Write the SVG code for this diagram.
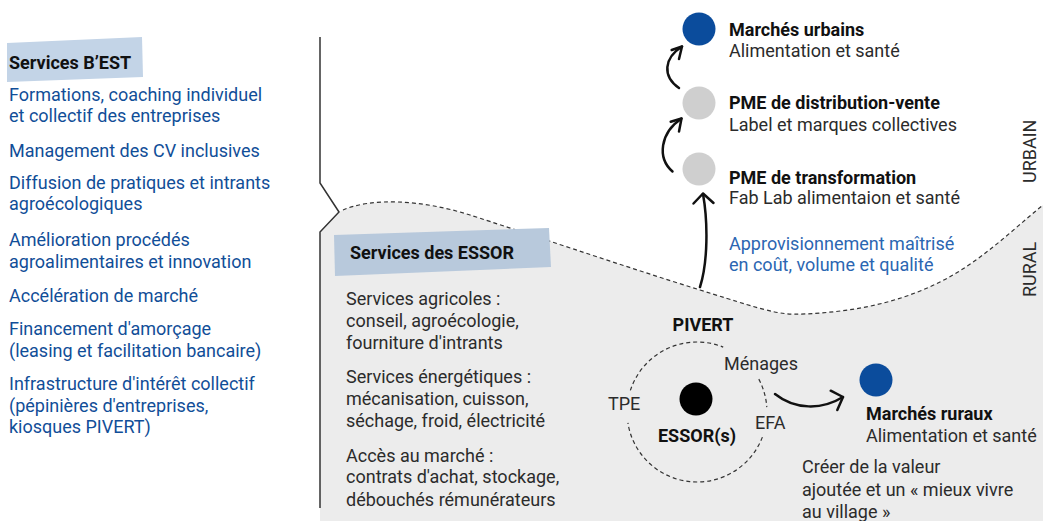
<svg xmlns="http://www.w3.org/2000/svg" width="1043" height="521" viewBox="0 0 1043 521">
<style>
.t{font-family:Roboto,"Liberation Sans",Arial,sans-serif;font-size:18px}
.b{font-weight:bold}
.blue{fill:#114e98}
.lblue{fill:#2b66b2}
.dk{fill:#2b2b2b}
.blk{fill:#111}
.conn{fill:none;stroke:#111;stroke-width:2.5;stroke-linecap:round;stroke-linejoin:round}
.dash{fill:none;stroke:#333;stroke-width:1.2;stroke-dasharray:4 3}
.tag{fill:#c3d4e7}
</style>
<rect width="1043" height="521" fill="#ffffff"/>
<g id="rural-zone">
<path d="M320,521 L320,232 L339,212 L343,210 C370,198 420,199 470,215 S620,265 700,290 S780,316 820,313 S900,302 940,282 S1010,232 1043,205 L1043,521 Z" fill="#ececec"/>
<path class="dash" d="M343,210 C370,198 420,199 470,215 S620,265 700,290 S780,316 820,313 S900,302 940,282 S1010,232 1043,205"/>
<polyline points="320,37 320,183 339,212 320,232 320,508" fill="none" stroke="#333" stroke-width="1.5"/>
<text class="t dk" transform="translate(1036,183) rotate(-90)">URBAIN</text>
<text class="t dk" transform="translate(1036,297) rotate(-90)">RURAL</text>
</g>
<g id="services-best">
<polygon class="tag" points="7,43 142,37 143,77 7,82"/>
<text class="t b blk" x="9" y="69">Services B’EST</text>
<text class="t blue" x="9" y="101">Formations, coaching individuel</text>
<text class="t blue" x="9" y="122">et collectif des entreprises</text>
<text class="t blue" x="9" y="157">Management des CV inclusives</text>
<text class="t blue" x="9" y="189">Diffusion de pratiques et intrants</text>
<text class="t blue" x="9" y="210">agroécologiques</text>
<text class="t blue" x="9" y="246">Amélioration procédés</text>
<text class="t blue" x="9" y="268">agroalimentaires et innovation</text>
<text class="t blue" x="9" y="302">Accélération de marché</text>
<text class="t blue" x="9" y="335">Financement d'amorçage</text>
<text class="t blue" x="9" y="357">(leasing et facilitation bancaire)</text>
<text class="t blue" x="9" y="390">Infrastructure d'intérêt collectif</text>
<text class="t blue" x="9" y="412">(pépinières d'entreprises,</text>
<text class="t blue" x="9" y="433">kiosques PIVERT)</text>
</g>
<g id="services-essor">
<polygon fill="#b8c9dc" points="334,235 549,228 551,267 335,276"/>
<text class="t b blk" x="350" y="259">Services des ESSOR</text>
<text class="t dk" x="346" y="305">Services agricoles :</text>
<text class="t dk" x="346" y="327">conseil, agroécologie,</text>
<text class="t dk" x="346" y="349">fourniture d'intrants</text>
<text class="t dk" x="346" y="383">Services énergétiques :</text>
<text class="t dk" x="346" y="405">mécanisation, cuisson,</text>
<text class="t dk" x="346" y="427">séchage, froid, électricité</text>
<text class="t dk" x="346" y="462">Accès au marché :</text>
<text class="t dk" x="346" y="483">contrats d'achat, stockage,</text>
<text class="t dk" x="346" y="506">débouchés rémunérateurs</text>
</g>
<g id="marches-urbains">
<circle cx="699" cy="29" r="16.5" fill="#0b4c9c"/>
<text class="t b blk" x="729" y="36">Marchés urbains</text>
<text class="t dk" x="729" y="57">Alimentation et santé</text>
</g>
<g id="pme-distribution">
<circle cx="699" cy="103" r="16.5" fill="#cfcfcf"/>
<text class="t b blk" x="729" y="109">PME de distribution-vente</text>
<text class="t dk" x="729" y="131">Label et marques collectives</text>
</g>
<g id="pme-transformation">
<circle cx="699" cy="169" r="16.5" fill="#cfcfcf"/>
<text class="t b blk" x="729" y="184">PME de transformation</text>
<text class="t dk" x="729" y="204">Fab Lab alimentaion et santé</text>
</g>
<g id="approvisionnement">
<text class="t lblue" x="729" y="250">Approvisionnement maîtrisé</text>
<text class="t lblue" x="729" y="271">en coût, volume et qualité</text>
</g>
<g id="pivert">
<path class="dash" d="M758.8,379.1 A70,70 0 0 1 766.8,407.1"/>
<path class="dash" d="M762.4,437.1 A70,70 0 0 1 627.9,422.9"/>
<path class="dash" d="M630.4,390.4 A70,70 0 0 1 723.2,347.1"/>
<text class="t b blk" x="703" y="331" text-anchor="middle">PIVERT</text>
<text class="t dk" x="724" y="370">Ménages</text>
<text class="t dk" x="608" y="410">TPE</text>
<text class="t dk" x="755" y="429">EFA</text>
</g>
<g id="essor">
<circle cx="696" cy="399" r="16.5" fill="#000"/>
<text class="t b blk" x="697" y="442" text-anchor="middle">ESSOR(s)</text>
</g>
<g id="marches-ruraux">
<circle cx="876" cy="380" r="16.5" fill="#0b4c9c"/>
<text class="t b blk" x="866" y="420">Marchés ruraux</text>
<text class="t dk" x="866" y="442">Alimentation et santé</text>
<text class="t dk" x="802" y="473">Créer de la valeur</text>
<text class="t dk" x="802" y="496">ajoutée et un « mieux vivre</text>
<text class="t dk" x="802" y="518">au village »</text>
</g>
<g id="connectors">
<path class="conn" d="M679,88 C662,76 664,58 682,46.5"/>
<polyline class="conn" points="671.7,50 682,46.5 679,59"/>
<path class="conn" d="M672.5,171.5 C657,158 660,133 681.5,118.5"/>
<polyline class="conn" points="670.7,121.7 681.5,118.5 679,131.5"/>
<path class="conn" d="M700,287 C708,262 708,222 703,194"/>
<polyline class="conn" points="693.5,203.5 703,193.5 713.5,203"/>
<path class="conn" d="M775,394 C795,410 822,410 843,397"/>
<polyline class="conn" points="830.7,390.7 843,397 837.3,410"/>
</g>
</svg>
